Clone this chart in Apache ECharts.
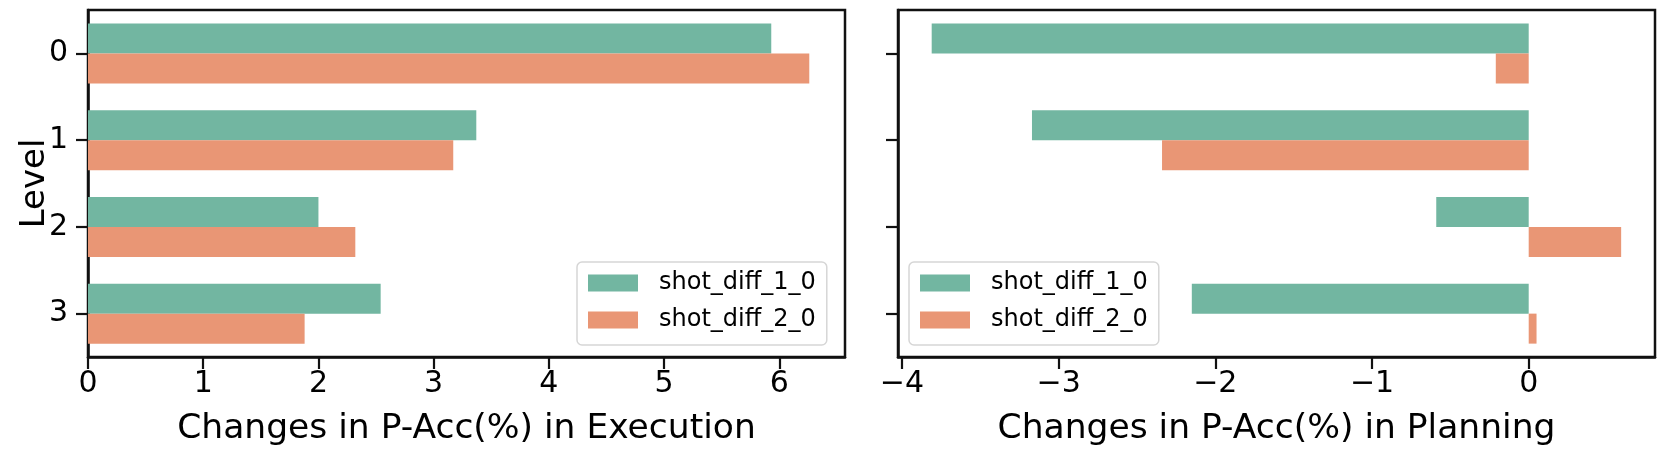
<!DOCTYPE html>
<html>
<head>
<meta charset="utf-8">
<script src="https://cdn.jsdelivr.net/npm/echarts@6/dist/echarts.min.js"></script>
<style>
  html, body { margin: 0; padding: 0; background: #fff; }
  #main { width: 1665px; height: 455px; }
</style>
</head>
<body>
<div id="main"></div>
<script>
// 数据
var levels = ['0', '1', '2', '3'];
var seriesNames = ['shot_diff_1_0', 'shot_diff_2_0'];
var execDiff1 = [5.93, 3.37, 2.00, 2.54];
var execDiff2 = [6.26, 3.17, 2.32, 1.88];
var planDiff1 = [-3.81, -3.17, -0.59, -2.15];
var planDiff2 = [-0.21, -2.34, 0.59, 0.05];
var execTicks = [0, 1, 2, 3, 4, 5, 6];
var planTicks = [-4, -3, -2, -1, 0];

var green = '#72b6a1';
var orange = '#e99675';
var font = 'DejaVu Sans';

var myChart = echarts.init(document.getElementById('main'));

function minusFmt(v) {
	return v < 0 ? '\u2212' + Math.abs(v) : String(v);
}

function xAxisOf(grid, name, min, max, ticks) {
	return {
		type: 'value',
		gridIndex: grid,
		min: min,
		max: max,
		name: name,
		nameLocation: 'middle',
		nameGap: 55,
		nameTextStyle: { fontFamily: font, fontSize: 34.5, color: '#000' },
		splitLine: { show: false },
		axisLine: { show: true, lineStyle: { color: '#111', width: 2.5 } },
		axisTick: { show: true, length: 12, lineStyle: { color: '#111', width: 2.2 }, customValues: ticks },
		axisLabel: { fontFamily: font, fontSize: 30, color: '#000', margin: 12, formatter: minusFmt, customValues: ticks }
	};
}

function yAxisOf(grid, showLabel) {
	return {
		type: 'category',
		gridIndex: grid,
		inverse: true,
		data: levels,
		name: showLabel ? 'Level' : '',
		nameLocation: 'middle',
		nameGap: 36,
		nameMoveOverlap: false,
		nameTextStyle: { fontFamily: font, fontSize: 34, color: '#000', padding: [12, 0, 0, 0] },
		axisLine: { show: true, onZero: false, lineStyle: { color: '#111', width: 2.5 } },
		axisTick: { show: true, alignWithLabel: true, length: 12, lineStyle: { color: '#111', width: 2.2 } },
		axisLabel: { show: showLabel, fontFamily: font, fontSize: 30, color: '#000', margin: 20 }
	};
}

function barOf(name, x, data, color) {
	return {
		name: name,
		type: 'bar',
		xAxisIndex: x,
		yAxisIndex: x,
		data: data,
		barWidth: 30,
		barGap: '0%',
		itemStyle: { color: color },
		emphasis: { disabled: true }
	};
}

function legendOf(left) {
	return {
		data: seriesNames,
		orient: 'vertical',
		left: left,
		top: 262,
		icon: 'rect',
		itemWidth: 50,
		itemHeight: 17,
		itemGap: 11,
		padding: [8, 11, 12, 11],
		borderColor: '#d6d6d6',
		borderWidth: 1.5,
		borderRadius: 5,
		backgroundColor: 'rgba(255,255,255,0.8)',
		textStyle: { fontFamily: font, fontSize: 24, color: '#000', lineHeight: 26, padding: [0, 0, 0, 16] }
	};
}

myChart.setOption({
	animation: false,
	grid: [
		{ left: 88, right: 820, top: 10, bottom: 98, show: true, borderColor: '#111', borderWidth: 2.5 },
		{ left: 898, right: 10, top: 10, bottom: 98, show: true, borderColor: '#111', borderWidth: 2.5 }
	],
	legend: [legendOf(577), legendOf(909)],
	xAxis: [
		xAxisOf(0, 'Changes in P-Acc(%) in Execution', 0, 6.57, execTicks),
		xAxisOf(1, 'Changes in P-Acc(%) in Planning', -4.025, 0.806, planTicks)
	],
	yAxis: [yAxisOf(0, true), yAxisOf(1, false)],
	series: [
		barOf(seriesNames[0], 0, execDiff1, green),
		barOf(seriesNames[1], 0, execDiff2, orange),
		barOf(seriesNames[0], 1, planDiff1, green),
		barOf(seriesNames[1], 1, planDiff2, orange)
	]
});
</script>
</body>
</html>
